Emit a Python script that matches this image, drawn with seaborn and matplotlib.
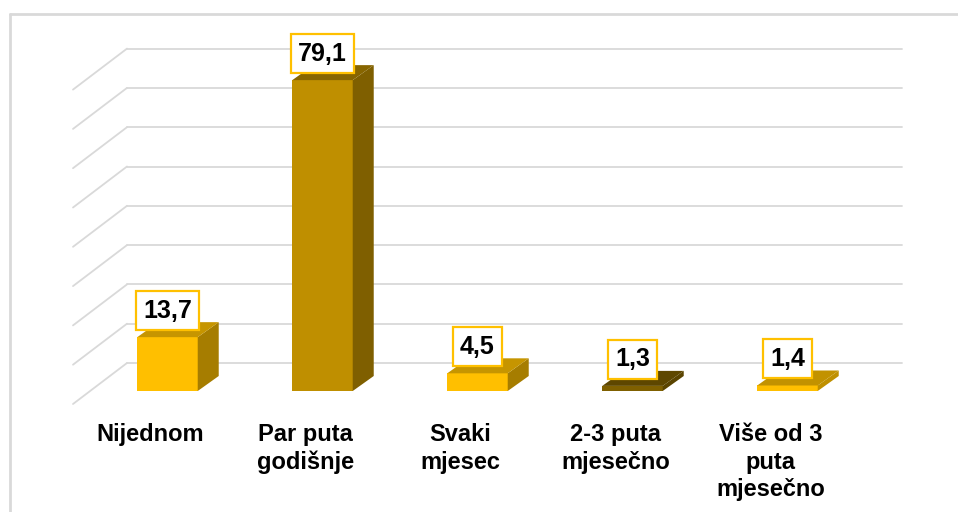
import matplotlib
matplotlib.use("Agg")
import matplotlib.pyplot as plt
import seaborn as sns
import numpy as np
from matplotlib.patches import Polygon
from matplotlib.lines import Line2D

# ---- data ----
categories = ["Nijednom", "Par puta\ngodišnje", "Svaki\nmjesec", "2-3 puta\nmjesečno", "Više od 3\nputa\nmjesečno"]
values = [13.7, 79.1, 4.5, 1.3, 1.4]
front_colors = ["#FFBF00", "#BF8F00", "#FFBF00", "#7F6000", "#FFBF00"]
side_colors = ["#A67D00", "#7F5F00", "#A67D00", "#5A4400", "#BF9000"]
top_colors = ["#C69500", "#876500", "#C69500", "#5E4700", "#C29200"]
grid_values = [0, 10, 20, 30, 40, 50, 60, 70, 80]

sns.set_style("white")
plt.rcParams['font.family'] = ['Liberation Sans', 'DejaVu Sans']

W, H = 958, 512
fig = plt.figure(figsize=(W / 100, H / 100), dpi=100)
ax = fig.add_axes([90 / W, (H - 391) / H, 775 / W, (391 - 76.6) / H])

sns.barplot(x=categories, y=values, hue=categories, palette=front_colors,
            width=0.39, saturation=1, legend=False, ax=ax, linewidth=0, zorder=3)

ax.set_xlim(-0.5, 4.5)
ax.set_ylim(0, 80)
for s in ax.spines.values():
    s.set_visible(False)
ax.set_xticks([])
ax.set_yticks([])
ax.set_xlabel("")
ax.set_ylabel("")
ax.grid(False)
fig.canvas.draw()

# 3D offsets in pixels (x right, y up)
BACK = np.array([37.0, 28.0])
FRONT = np.array([-17.0, -13.0])
DEPTH = np.array([21.0, 15.0])

def to_px(pts):
    return ax.transData.transform(np.asarray(pts, dtype=float))

def to_data(px):
    return ax.transData.inverted().transform(np.asarray(px, dtype=float))

grid_c = "#D9D9D9"
# back wall + side wall gridlines
for v in grid_values:
    p_left = to_px([[-0.5, v]])[0]
    p_right = to_px([[4.5, v]])[0]
    back = to_data([p_left + BACK, p_right + BACK])
    ax.plot(back[:, 0], back[:, 1], color=grid_c, lw=1.3, zorder=1, clip_on=False)
    side = to_data([p_left + FRONT, p_left + BACK])
    ax.plot(side[:, 0], side[:, 1], color=grid_c, lw=1.3, zorder=1, clip_on=False)

# 3D faces of bars
for i, p in enumerate(ax.patches):
    x0, w, h = p.get_x(), p.get_width(), p.get_height()
    A, B, C, D = to_px([[x0, 0], [x0 + w, 0], [x0 + w, h], [x0, h]])
    side = to_data([B, C, C + DEPTH, B + DEPTH])
    top = to_data([D, C, C + DEPTH, D + DEPTH])
    ax.add_patch(Polygon(side, closed=True, fc=side_colors[i], ec="none", zorder=3, clip_on=False))
    ax.add_patch(Polygon(top, closed=True, fc=top_colors[i], ec="none", zorder=3, clip_on=False))

# data labels
for i, v in enumerate(values):
    ax.annotate(f"{v:.1f}".replace(".", ","), xy=(i, v), xytext=(0, 14.5 * 0.72),
                textcoords="offset points", ha="center", va="bottom",
                fontsize=18, fontweight="bold", color="#000000", zorder=5,
                bbox=dict(boxstyle="square,pad=0.3", fc="white", ec="#FFC000", lw=1.6),
                annotation_clip=False)

# category labels at floor front edge
for i, c in enumerate(categories):
    ax.annotate(c, xy=(i, 0), xytext=(-17 * 0.72, -32 * 0.72), textcoords="offset points",
                ha="center", va="top", multialignment="center", linespacing=1.25,
                fontsize=17, fontweight="bold", color="#000000", annotation_clip=False)

# chart area border (left and top visible)
fig.add_artist(Line2D([9.5 / W, 9.5 / W], [0, (H - 13.5) / H], transform=fig.transFigure,
                      color=grid_c, lw=2.0))
fig.add_artist(Line2D([9.5 / W, 1.0], [(H - 13.5) / H, (H - 13.5) / H], transform=fig.transFigure,
                      color=grid_c, lw=2.0))

fig.savefig("out.png", dpi=100, facecolor="white")
